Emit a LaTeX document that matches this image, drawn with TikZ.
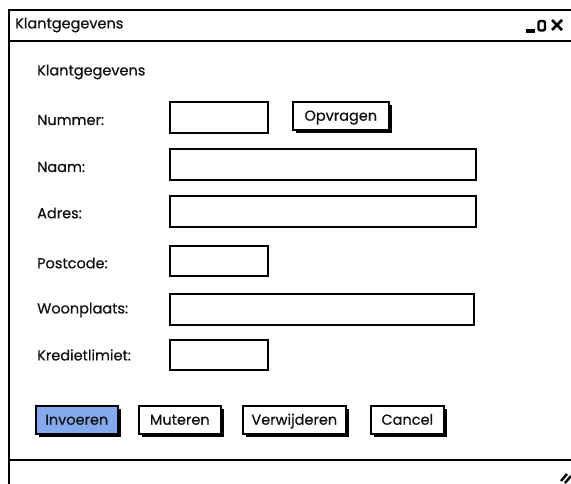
\documentclass[tikz,border=0pt]{standalone}
\usepackage{fontspec}
\setmainfont{Poppins}[FakeBold=0.5]
\usetikzlibrary{shadows}
\definecolor{selblue}{HTML}{84A9EC}
\definecolor{txt}{HTML}{111111}
\begin{document}
\begin{tikzpicture}[x=1pt,y=-1pt,
  lbl/.style={anchor=west, inner sep=0pt, text=txt, font=\fontsize{14.5}{16}\selectfont},
  field/.style={draw, line width=2.3pt, anchor=north west, inner sep=0pt},
  btn/.style={draw, line width=1.6pt, fill=white, anchor=north west, inner sep=0pt, text=txt,
    font=\fontsize{14.5}{16}\selectfont, text height=2.1ex, text depth=0.3ex,
    drop shadow={shadow xshift=3pt, shadow yshift=-3pt, opacity=1, fill=black}},
  frame/.style={line width=2pt}]
\useasboundingbox (0,0) rectangle (571,484);
% window
\coordinate (wtl) at (9,10);
\coordinate (wtr) at (575,10);
\coordinate (wbl) at (9,490);
\draw[frame] (wtr) -- (wtl) -- (wbl);
\coordinate (tbl) at (9,41);
\coordinate (tbr) at (575,41);
\draw[frame] (tbl) -- (tbr);
\coordinate (sbl) at (9,460);
\coordinate (sbr) at (575,460);
\draw[frame] (sbl) -- (sbr);
\node[lbl] (title) at (15,25) {Klantgegevens};
% window controls
\draw[line width=3.5pt] (526,31) -- (535,31);
\draw[line width=2.4pt, rounded corners=2pt] (538.5,21) rectangle (545,30.5);
\draw[line width=2.6pt] (552,20) -- (562,30) (562,20) -- (552,30);
% heading
\node[lbl] (head) at (37,72) {Klantgegevens};
% labels
\node[lbl] (lnum) at (37,120) {Nummer:};
\node[lbl] (lnaam) at (37,167) {Naam:};
\node[lbl] (ladres) at (37,213) {Adres:};
\node[lbl] (lpc) at (37,263) {Postcode:};
\node[lbl] (lwp) at (37,310) {Woonplaats:};
\node[lbl] (lkl) at (37,355) {Kredietlimiet:};
% fields
\node[field, minimum width=98pt, minimum height=31pt] (fnum) at (169,101) {};
\node[field, minimum width=306pt, minimum height=31pt] (fnaam) at (169,148) {};
\node[field, minimum width=306pt, minimum height=31pt] (fadres) at (169,195) {};
\node[field, minimum width=98pt, minimum height=30pt] (fpc) at (169,245) {};
\node[field, minimum width=304pt, minimum height=31pt] (fwp) at (169,293) {};
\node[field, minimum width=98pt, minimum height=30pt] (fkl) at (169,339) {};
% buttons
\node[btn, minimum width=96pt, minimum height=28pt] (opv) at (292,101) {Opvragen};
\node[btn, fill=selblue, minimum width=82pt, minimum height=28pt] (inv) at (35,405) {Invoeren};
\node[btn, minimum width=82pt, minimum height=28pt] (mut) at (138,405) {Muteren};
\node[btn, minimum width=103pt, minimum height=28pt] (ver) at (242,405) {Verwijderen};
\node[btn, minimum width=73pt, minimum height=28pt] (can) at (370,405) {Cancel};
% resize grip
\draw[line width=2.4pt] (561,481) -- (567,474) (565,483) -- (571,476);
\end{tikzpicture}
\end{document}
